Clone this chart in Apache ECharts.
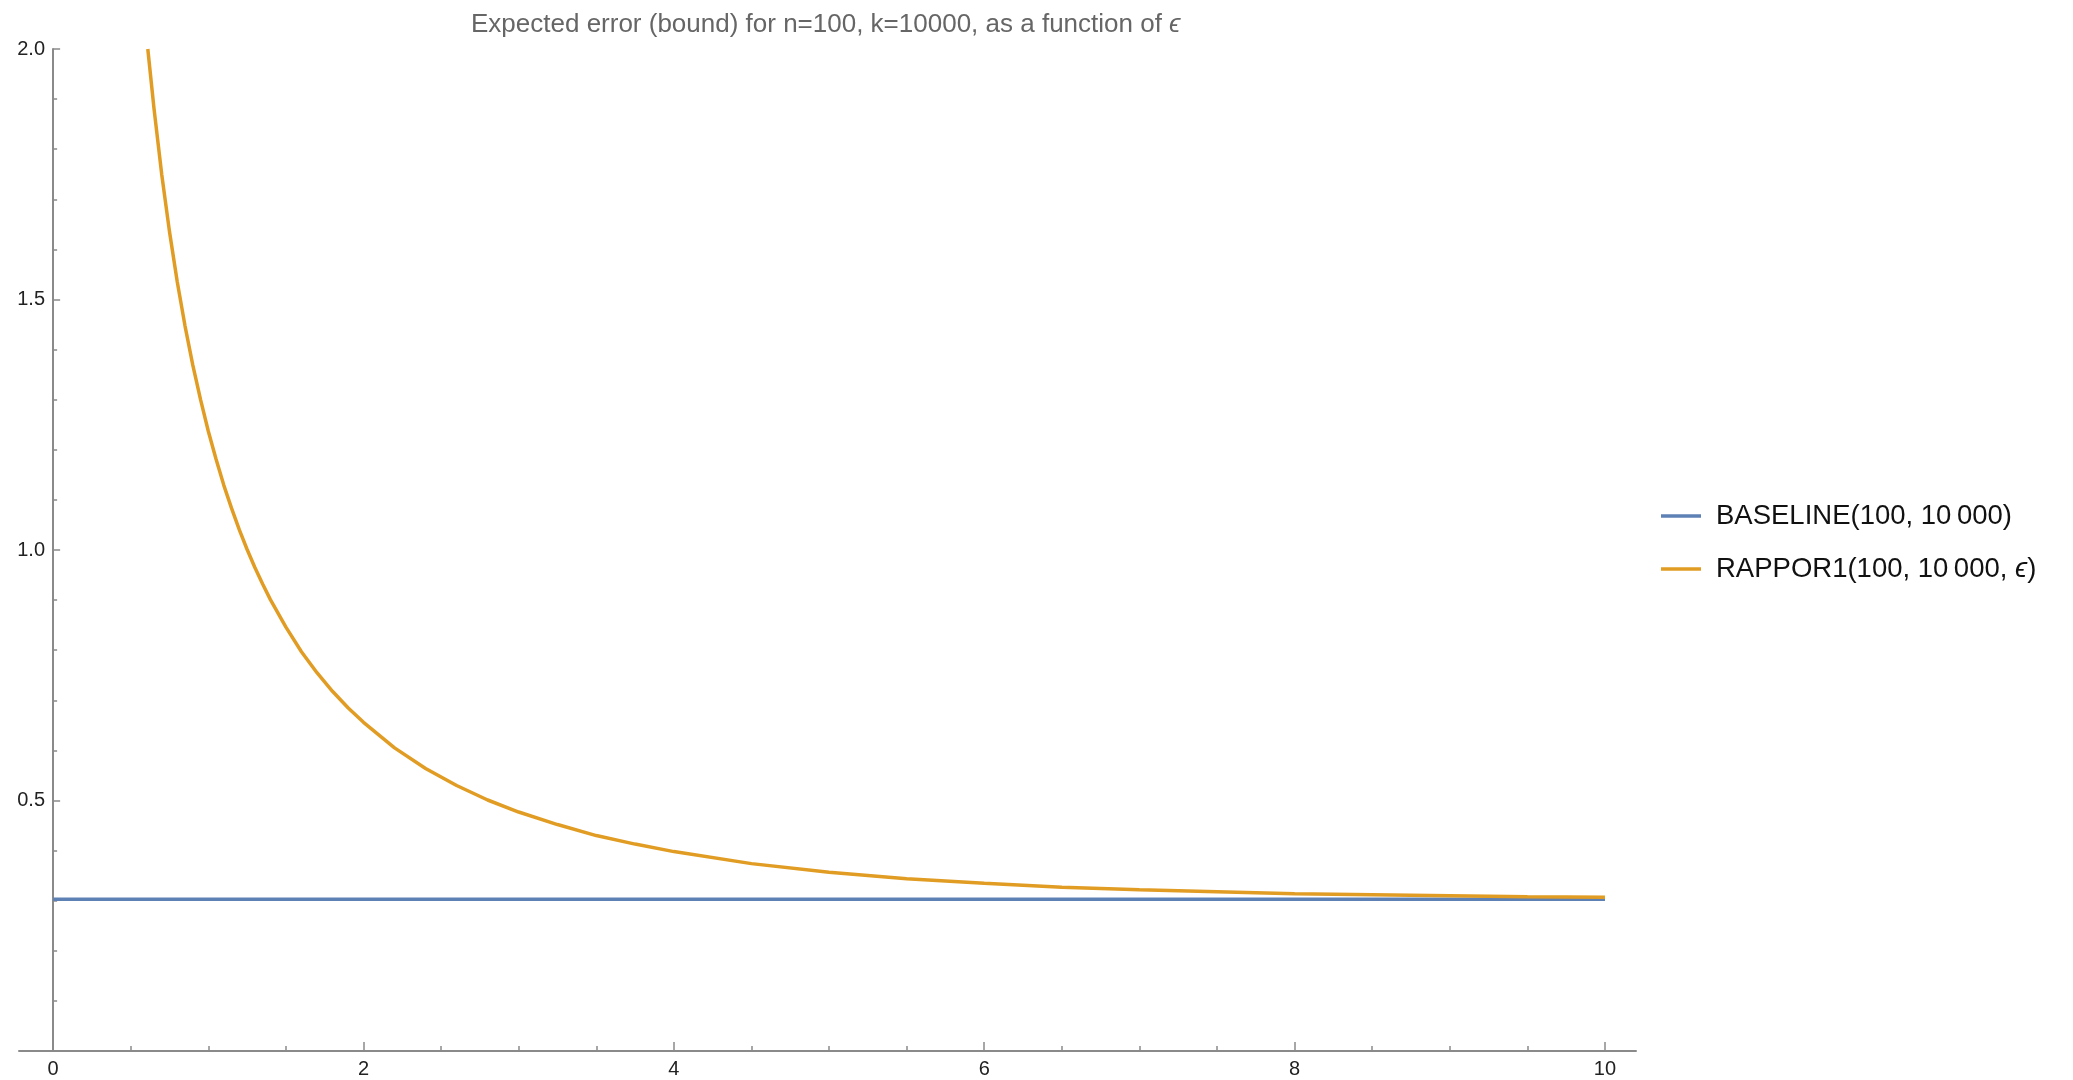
<!DOCTYPE html>
<html>
<head>
<meta charset="utf-8">
<script src="https://cdn.jsdelivr.net/npm/echarts@6/dist/echarts.min.js"></script>
<style>
html,body{margin:0;padding:0;background:#fff;}
#chart{width:2073px;height:1080px;}
</style>
</head>
<body>
<div id="chart"></div>
<script>
// ---- data ----
const titleText = 'Expected error (bound) for n=100, k=10000, as a function of ';
const seriesNames = ['BASELINE(100, 10\u2009000)', 'RAPPOR1(100, 10\u2009000, '];
const baselineEps = [0, 10];
const baselineVals = [0.303, 0.303];
const rapporEps = [0.61, 0.65, 0.70, 0.75, 0.80, 0.85, 0.90, 0.95, 1.00, 1.05, 1.10, 1.15, 1.20, 1.25, 1.30, 1.35, 1.40, 1.50, 1.60, 1.70, 1.80, 1.90, 2.00, 2.20, 2.40, 2.60, 2.80, 3.00, 3.25, 3.50, 3.75, 4.00, 4.50, 5.00, 5.50, 6.00, 6.50, 7.00, 7.50, 8.00, 8.50, 9.00, 9.50, 10.00];
const rapporVals = [2.000, 1.881, 1.749, 1.635, 1.535, 1.447, 1.369, 1.300, 1.237, 1.181, 1.129, 1.083, 1.040, 1.001, 0.965, 0.932, 0.901, 0.846, 0.797, 0.755, 0.718, 0.685, 0.656, 0.605, 0.564, 0.530, 0.501, 0.477, 0.452, 0.430, 0.413, 0.398, 0.374, 0.357, 0.344, 0.335, 0.327, 0.322, 0.318, 0.314, 0.312, 0.310, 0.308, 0.307];
const xMajorTicks = [0, 2, 4, 6, 8, 10];
const xMinorTicks = [0.5, 1, 1.5, 2.5, 3, 3.5, 4.5, 5, 5.5, 6.5, 7, 7.5, 8.5, 9, 9.5];
const yMajorTicks = [0.5, 1.0, 1.5, 2.0];
const yMinorTicks = [0.1, 0.2, 0.3, 0.4, 0.6, 0.7, 0.8, 0.9, 1.1, 1.2, 1.3, 1.4, 1.6, 1.7, 1.8, 1.9];

const FONT = '"Liberation Sans", Arial, sans-serif';
const AXIS_COLOR = '#8a8a8a';
const BLUE = '#5E81B5';
const ORANGE = '#E19C24';

const chart = echarts.init(document.getElementById('chart'), null, {renderer: 'canvas'});

const xMin = -0.22, xMax = 10.2;

chart.setOption({
  animation: false,
  backgroundColor: '#fff',
  title: {
    text: titleText + '{e|\u03F5}',
    left: 466,
    top: 7,
    textStyle: {
      fontFamily: FONT, fontSize: 26, fontWeight: 'normal', color: '#666',
      rich: { e: { fontFamily: FONT, fontSize: 26, fontStyle: 'italic', color: '#666' } }
    }
  },
  legend: {
    orient: 'vertical',
    left: 1656,
    top: 497,
    icon: 'rect',
    itemWidth: 40,
    itemHeight: 3.5,
    itemGap: 25,
    data: seriesNames,
    formatter: function (name) {
      return name === seriesNames[1] ? name + '{e|\u03F5})' : name;
    },
    textStyle: {
      fontFamily: FONT, fontSize: 27.5, color: '#111', lineHeight: 28,
      padding: [0, 0, 0, 10],
      rich: { e: { fontFamily: FONT, fontSize: 27.5, fontStyle: 'italic', color: '#111' } }
    }
  },
  grid: { left: 19, top: 49, width: 1617, height: 1002, outerBoundsMode: 'none', containLabel: false },
  xAxis: [
    {
      type: 'value', min: xMin, max: xMax, position: 'bottom',
      axisLine: { show: true, onZero: false, lineStyle: { color: AXIS_COLOR, width: 2 } },
      axisTick: { show: true, inside: true, length: 9, customValues: xMajorTicks, lineStyle: { color: AXIS_COLOR, width: 1.5 } },
      axisLabel: { show: true, customValues: xMajorTicks, margin: 8, fontFamily: FONT, fontSize: 20, color: '#222' },
      splitLine: { show: false }
    },
    {
      type: 'value', min: xMin, max: xMax, position: 'bottom',
      axisLine: { show: false, onZero: false },
      axisTick: { show: true, inside: true, length: 5, customValues: xMinorTicks, lineStyle: { color: AXIS_COLOR, width: 1.5 } },
      axisLabel: { show: false },
      splitLine: { show: false }
    }
  ],
  yAxis: [
    {
      type: 'value', min: 0, max: 2, position: 'left',
      axisLine: { show: true, onZero: true, onZeroAxisIndex: 0, lineStyle: { color: AXIS_COLOR, width: 2 } },
      axisTick: { show: true, inside: true, length: 7, customValues: yMajorTicks, lineStyle: { color: AXIS_COLOR, width: 1.5 } },
      axisLabel: { show: true, customValues: yMajorTicks, margin: -26, fontFamily: FONT, fontSize: 20, color: '#222',
        formatter: function (v) { return Number(v).toFixed(1); } },
      splitLine: { show: false }
    },
    {
      type: 'value', min: 0, max: 2, position: 'left',
      axisLine: { show: false, onZero: true, onZeroAxisIndex: 0 },
      axisTick: { show: true, inside: true, length: 4, customValues: yMinorTicks, lineStyle: { color: AXIS_COLOR, width: 1.5 } },
      axisLabel: { show: false },
      splitLine: { show: false }
    }
  ],
  series: [
    {
      name: seriesNames[0], type: 'line', xAxisIndex: 0, yAxisIndex: 0,
      data: baselineEps.map((e, i) => [e, baselineVals[i]]),
      symbol: 'none', lineStyle: { color: BLUE, width: 3.5 }, itemStyle: { color: BLUE }, z: 2
    },
    {
      name: seriesNames[1], type: 'line', xAxisIndex: 0, yAxisIndex: 0,
      data: rapporEps.map((e, i) => [e, rapporVals[i]]),
      symbol: 'none', smooth: false,
      lineStyle: { color: ORANGE, width: 3.5 }, itemStyle: { color: ORANGE }, z: 3
    }
  ]
});
</script>
</body>
</html>
